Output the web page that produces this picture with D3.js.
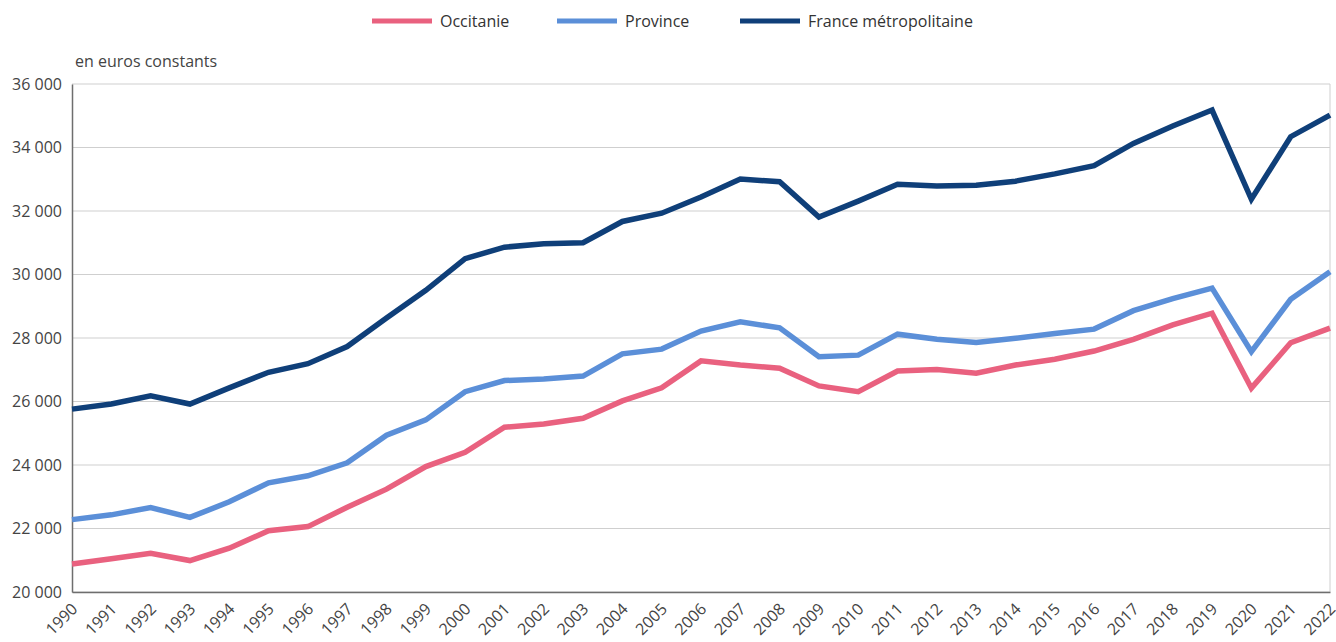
<!DOCTYPE html>
<html>
<head>
<meta charset="utf-8">
<script src="https://cdn.jsdelivr.net/npm/d3@7"></script>
<style>
  body { margin: 0; background: #fff; }
  svg { font-family: "Open Sans", sans-serif; }
</style>
</head>
<body>
<svg id="chart" width="1336" height="642"></svg>
<script>
// années
var years = d3.range(1990, 2023);

// revenu en euros constants
var occitanie = [20880, 21050, 21220, 20990, 21380, 21930, 22060, 22670, 23240, 23950,
                 24400, 25190, 25290, 25470, 26020, 26430, 27280, 27150, 27050, 26490,
                 26310, 26960, 27010, 26890, 27150, 27330, 27590, 27960, 28410, 28780,
                 26420, 27850, 28310];
var province = [22280, 22430, 22660, 22350, 22840, 23440, 23660, 24070, 24940, 25420,
                26310, 26660, 26710, 26800, 27500, 27650, 28220, 28510, 28320, 27410,
                27460, 28120, 27960, 27860, 27990, 28140, 28280, 28860, 29240, 29570,
                27570, 29220, 30090];
var france = [25760, 25920, 26180, 25920, 26430, 26920, 27190, 27730, 28630, 29500,
              30500, 30860, 30970, 31000, 31670, 31930, 32440, 33010, 32920, 31810,
              32310, 32840, 32790, 32810, 32940, 33170, 33430, 34130, 34680, 35180,
              32370, 34340, 35020];

var yTicks = [20000, 22000, 24000, 26000, 28000, 30000, 32000, 34000, 36000];

var series = [
    { name: 'Occitanie', values: occitanie, color: '#e9617f' },
    { name: 'Province', values: province, color: '#5b8fd8' },
    { name: 'France métropolitaine', values: france, color: '#0f3f79' }
];

var margin = { top: 84, right: 6, bottom: 50, left: 72 };
var width = 1336, height = 642;

var svg = d3.select('#chart');

var x = d3.scaleLinear()
    .domain([1990, 2022])
    .range([margin.left, width - margin.right]);

var y = d3.scaleLinear()
    .domain([20000, 36000])
    .range([height - margin.bottom, margin.top]);

// séparateur de milliers : espace
var fmt = function (d) { return d3.format(',')(d).replace(',', '\u00a0'); };

// grille
svg.append('g')
    .selectAll('line')
    .data(yTicks)
    .enter()
    .append('line')
    .attr('x1', x(1990)).attr('x2', x(2022))
    .attr('y1', function (d) { return y(d); })
    .attr('y2', function (d) { return y(d); })
    .attr('stroke', '#cfcfcf')
    .attr('stroke-width', 1);

// bord droit
svg.append('line')
    .attr('x1', x(2022)).attr('x2', x(2022))
    .attr('y1', y(36000)).attr('y2', y(20000))
    .attr('stroke', '#cfcfcf');

// axe y
var yAxis = svg.append('g')
    .attr('transform', 'translate(' + margin.left + ',0)')
    .call(d3.axisLeft(y).tickValues(yTicks).tickFormat(fmt).tickSize(0).tickPadding(10));
yAxis.select('.domain').attr('stroke', '#6e6e6e').attr('stroke-width', 1.5);
yAxis.selectAll('text').attr('font-size', 16).attr('fill', '#444')
    .attr('font-family', '"Open Sans", sans-serif');

// axe x
var xAxis = svg.append('g')
    .attr('transform', 'translate(0,' + (height - margin.bottom) + ')')
    .call(d3.axisBottom(x).tickValues(years).tickFormat(d3.format('d')).tickSize(0));
xAxis.select('.domain').attr('stroke', '#6e6e6e').attr('stroke-width', 1.5);
xAxis.selectAll('text')
    .attr('font-size', 16).attr('fill', '#444')
    .attr('font-family', '"Open Sans", sans-serif')
    .attr('text-anchor', 'end')
    .attr('dy', null)
    .attr('y', 0)
    .attr('transform', 'translate(6,18) rotate(-45)');

// unité
svg.append('text')
    .attr('x', 75).attr('y', 67)
    .attr('font-size', 16).attr('fill', '#444')
    .text('en euros constants');

// courbes
var line = d3.line()
    .x(function (d, i) { return x(years[i]); })
    .y(function (d) { return y(d); });

svg.append('g')
    .selectAll('path')
    .data(series)
    .enter()
    .append('path')
    .attr('d', function (s) { return line(s.values); })
    .attr('fill', 'none')
    .attr('stroke', function (s) { return s.color; })
    .attr('stroke-width', 5.5)
    .attr('stroke-linejoin', 'miter');

// légende
var legendX = [372, 557, 740];
var legend = svg.append('g')
    .selectAll('g')
    .data(series)
    .enter()
    .append('g')
    .attr('transform', function (s, i) { return 'translate(' + legendX[i] + ',21)'; });
legend.append('rect')
    .attr('x', 0).attr('y', -2.5)
    .attr('width', 60).attr('height', 5)
    .attr('fill', function (s) { return s.color; });
legend.append('text')
    .attr('x', 68).attr('y', 6)
    .attr('font-size', 16).attr('fill', '#333')
    .text(function (s) { return s.name; });
</script>
</body>
</html>
